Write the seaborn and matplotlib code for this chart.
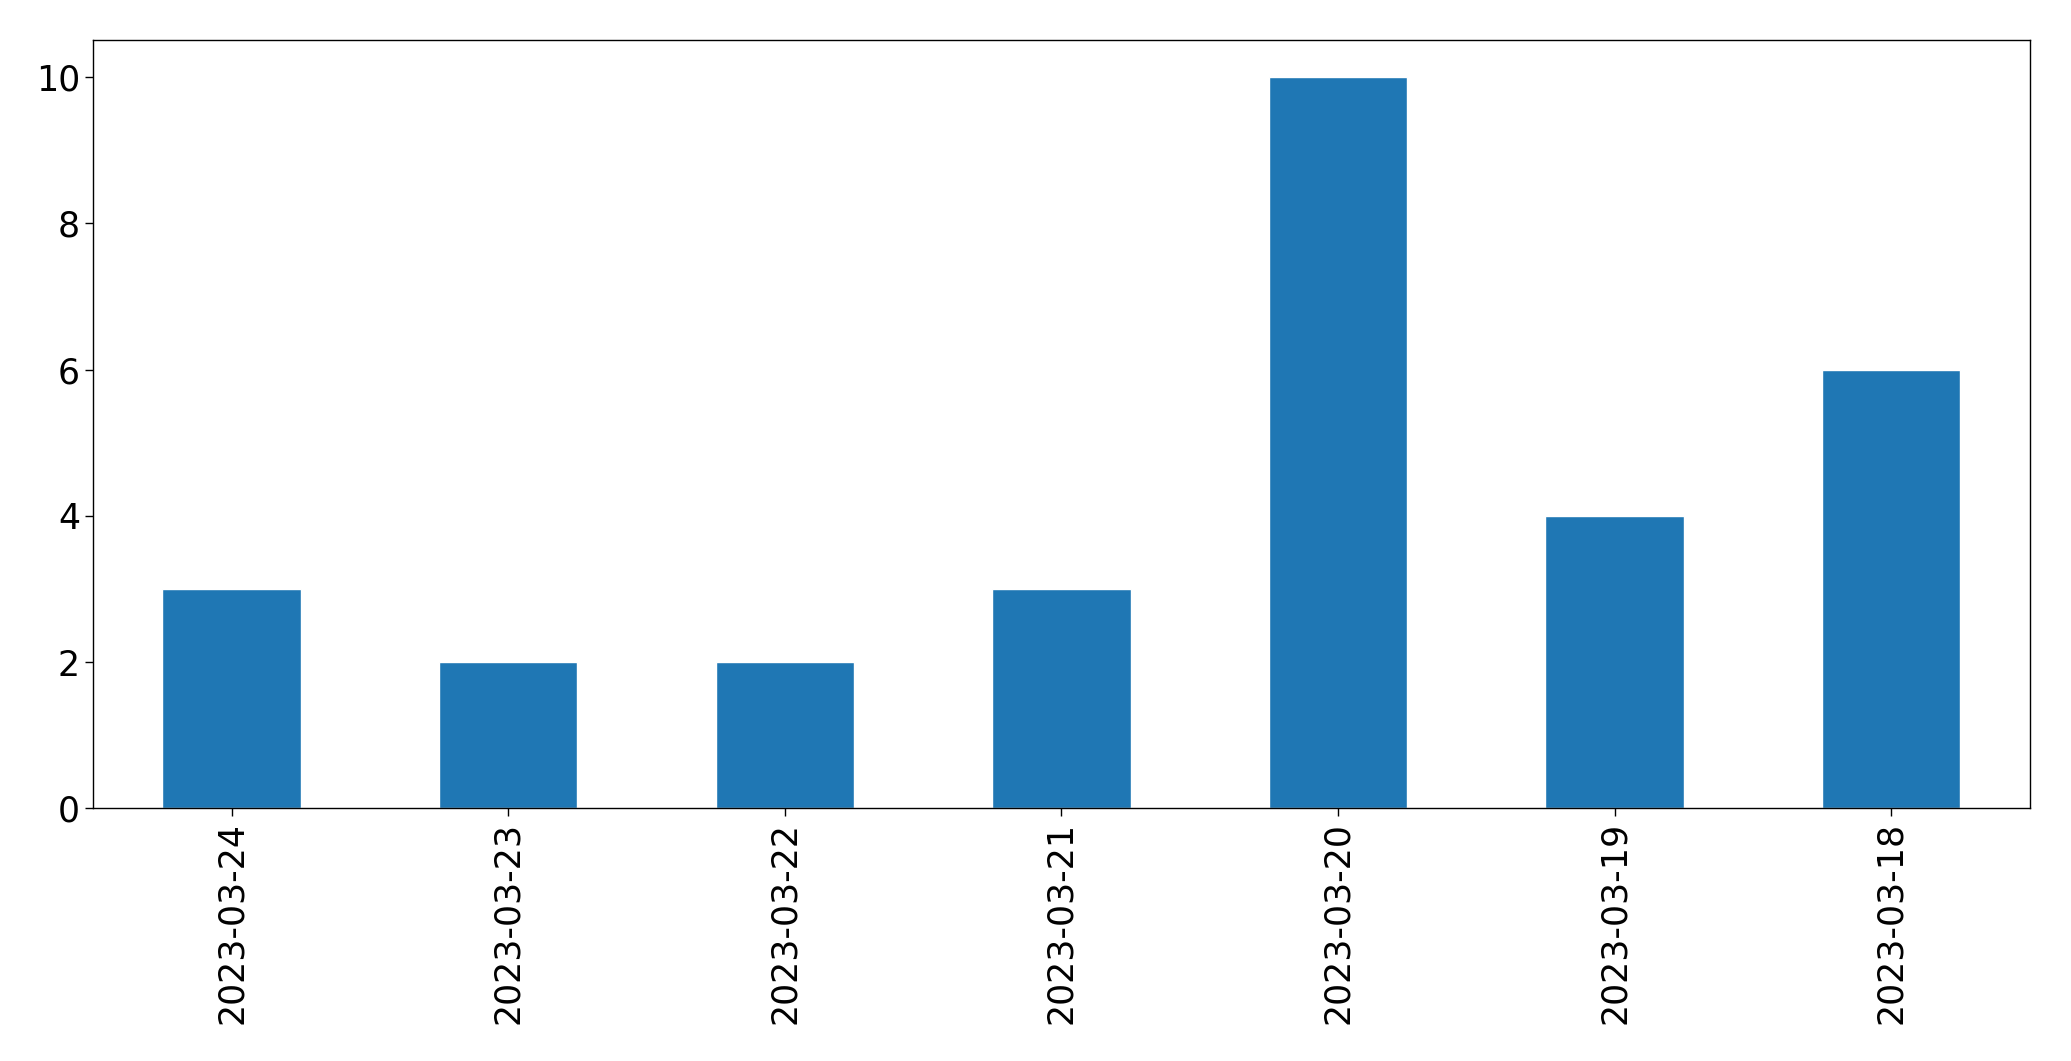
import matplotlib
matplotlib.use("Agg")
import matplotlib.pyplot as plt
import pandas as pd
import seaborn as sns

sns.set_theme(style="white")
plt.rcParams["font.family"] = ["DejaVu Sans"]

dates = ["2023-03-24", "2023-03-23", "2023-03-22", "2023-03-21",
         "2023-03-20", "2023-03-19", "2023-03-18"]
counts = [3, 2, 2, 3, 10, 4, 6]

df = pd.DataFrame({"date": dates, "count": counts})

fig, ax = plt.subplots(figsize=(20.71, 10.61), dpi=100)
sns.barplot(data=df, x="date", y="count", order=dates, color="#1f77b4",
            saturation=1, width=0.5, ax=ax)
ax.set_xlabel("")
ax.set_ylabel("")
ax.set_ylim(0, 10.5)
ax.set_yticks([0, 2, 4, 6, 8, 10])
ax.tick_params(axis="both", labelsize=25, length=6, width=1, color="black",
               labelcolor="black", bottom=True, left=True)
ax.tick_params(axis="x", rotation=90)
for s in ax.spines.values():
    s.set_color("black")
    s.set_linewidth(1)

fig.subplots_adjust(left=0.045, right=0.98, top=0.962, bottom=0.238)
fig.savefig("out.png", dpi=100)
